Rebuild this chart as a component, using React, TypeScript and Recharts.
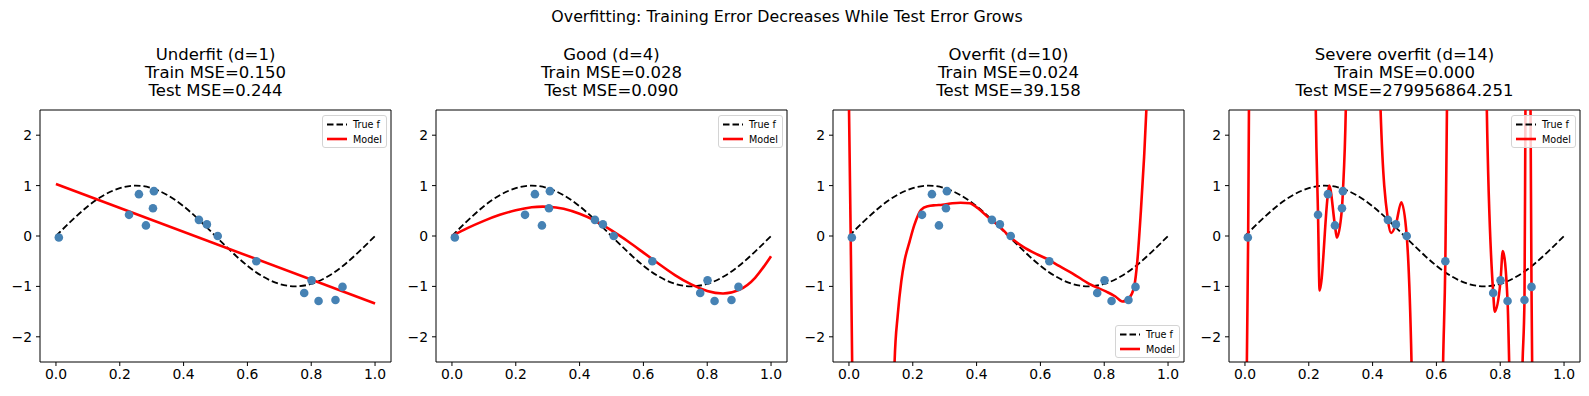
import React from 'react';
import { ComposedChart, Line, Scatter, XAxis, YAxis, ReferenceLine } from 'recharts';

// training samples (same in every panel)
const sampleX = [0.009, 0.229, 0.26, 0.282, 0.304, 0.307, 0.448, 0.473, 0.507, 0.628, 0.778, 0.801, 0.823, 0.876, 0.898];
const sampleY = [-0.03, 0.42, 0.83, 0.21, 0.55, 0.89, 0.32, 0.23, 0.0, -0.5, -1.13, -0.88, -1.29, -1.27, -1.01];

// true function
const trueX = [0, 0.05, 0.1, 0.15, 0.2, 0.25, 0.3, 0.35, 0.4, 0.45, 0.5, 0.55, 0.6, 0.65, 0.7, 0.75, 0.8, 0.85, 0.9, 0.95, 1];
const trueY = [0, 0.31, 0.59, 0.81, 0.95, 1, 0.95, 0.81, 0.59, 0.31, 0, -0.31, -0.59, -0.81, -0.95, -1, -0.95, -0.81, -0.59, -0.31, 0];

// model curves
const fit1X = [0, 1];
const fit1Y = [1.03, -1.34];

const fit4X = trueX;
const fit4Y = [0, 0.16, 0.3, 0.42, 0.51, 0.57, 0.58, 0.54, 0.44, 0.3, 0.11, -0.1, -0.33, -0.56, -0.78, -0.96, -1.09, -1.14, -1.07, -0.83, -0.4];

const fit10X = [0, 0.0055, 0.01, 0.02, 0.08, 0.135, 0.143, 0.153, 0.164, 0.174, 0.19, 0.205, 0.226, 0.247, 0.27, 0.293, 0.324, 0.35, 0.378, 0.404, 0.44, 0.47, 0.503, 0.545, 0.585, 0.623, 0.66, 0.7, 0.753, 0.805, 0.835, 0.857, 0.878, 0.894, 0.904, 0.915, 0.925, 0.932, 0.94, 1];
const fit10Y = [2.6, -0.03, -2.5, -8, -40, -5, -2.5, -1.56, -0.9, -0.5, -0.11, 0.22, 0.52, 0.59, 0.61, 0.62, 0.65, 0.66, 0.65, 0.55, 0.35, 0.2, -0.01, -0.21, -0.35, -0.46, -0.6, -0.74, -0.95, -1.1, -1.2, -1.3, -1.23, -1.0, -0.48, 0.51, 1.57, 2.5, 4, 400];

const fit14X = [0, 0.006, 0.01, 0.0125, 0.03, 0.12, 0.21, 0.222, 0.229, 0.234, 0.26, 0.264, 0.282, 0.288, 0.304, 0.307, 0.316, 0.33, 0.37, 0.41, 0.425, 0.448, 0.458, 0.473, 0.49, 0.507, 0.522, 0.54, 0.57, 0.605, 0.621, 0.628, 0.633, 0.66, 0.7, 0.745, 0.758, 0.778, 0.783, 0.801, 0.808, 0.823, 0.828, 0.85, 0.87, 0.876, 0.879, 0.887, 0.895, 0.898, 0.9, 0.95, 1];
const fit14Y = [-8, -2.5, -0.03, 2.5, 15, 80, 12, 2.5, 0.42, -1.08, 0.83, 1.0, 0.21, -0.03, 0.55, 0.89, 2.5, 10, 20, 10, 2.5, 0.32, 0.06, 0.23, 0.67, 0, -2.5, -10, -20, -10, -2.5, -0.5, 2.5, 15, 25, 12, 2.5, -1.13, -1.5, -0.88, -0.3, -1.29, -2.5, -10, -2.5, -1.27, 2.5, 8, 2.5, -1.01, -2.5, -60, -200];

const panelNames = ['Underfit (d=1)', 'Good (d=4)', 'Overfit (d=10)', 'Severe overfit (d=14)'];
const trainMse = ['0.150', '0.028', '0.024', '0.000'];
const testMse = ['0.244', '0.090', '39.158', '279956864.251'];
const legendAtBottom = [false, false, true, false];

const xTicks = [0, 0.2, 0.4, 0.6, 0.8, 1.0];
const yTicks = [-2, -1, 0, 1, 2];

const zip = (xs: number[], ys: number[]) => xs.map((x, i) => ({ x, y: ys[i] }));

const samples = zip(sampleX, sampleY);
const truth = zip(trueX, trueY);
const fits = [zip(fit1X, fit1Y), zip(fit4X, fit4Y), zip(fit10X, fit10Y), zip(fit14X, fit14Y)];
const curveTypes = ['linear', 'natural', 'monotone', 'monotone'] as const;

const FONT = '"DejaVu Sans", sans-serif';
const AX_LEFT = [40, 436, 833, 1229];
const AX_W = 351;
const AX_TOP = 110;
const AX_H = 252;
const Y_W = 36;
const X_H = 28;

const fmtY = (v: number) => (v < 0 ? '\u2212' + Math.abs(v) : String(v));

function LegendBox({ left, top }: { left: number; top: number }) {
  return (
    <svg
      width={66}
      height={33}
      style={{ position: 'absolute', left, top, overflow: 'visible' }}
    >
      <rect x={0.5} y={0.5} width={64} height={32} rx={2.5} fill="rgba(255,255,255,0.8)" stroke="#d4d4d4" />
      <line x1={5} x2={25} y1={9.5} y2={9.5} stroke="#000" strokeWidth={1.8} strokeDasharray="6.5 3" />
      <line x1={5} x2={25} y1={24} y2={24} stroke="#ff0000" strokeWidth={2.6} />
      <text x={31} y={9.5} dominantBaseline="central" fontSize={9.6} fontFamily={FONT} fill="#000">True f</text>
      <text x={31} y={24} dominantBaseline="central" fontSize={9.6} fontFamily={FONT} fill="#000">Model</text>
    </svg>
  );
}

function Panel({ idx }: { idx: number }) {
  const left = AX_LEFT[idx];
  return (
    <>
      <div
        style={{
          position: 'absolute',
          left: left - 60,
          width: AX_W + 120,
          top: 45.5,
          textAlign: 'center',
          fontSize: 16.5,
          lineHeight: '18.3px',
          color: '#000',
        }}
      >
        <div>{panelNames[idx]}</div>
        <div>Train MSE={trainMse[idx]}</div>
        <div>Test MSE={testMse[idx]}</div>
      </div>
      <div style={{ position: 'absolute', left: left - Y_W, top: AX_TOP - 2 }}>
        <ComposedChart
          width={Y_W + AX_W + 2}
          height={2 + AX_H + X_H}
          margin={{ top: 2, right: 2, bottom: 0, left: 0 }}
        >
          <XAxis
            dataKey="x"
            type="number"
            domain={[-0.05, 1.05]}
            allowDataOverflow
            ticks={xTicks}
            interval={0}
            tickFormatter={(v: number) => v.toFixed(1)}
            height={X_H}
            tickSize={4}
            tickMargin={3}
            tick={{ fill: '#000', fontSize: 13.9, fontFamily: FONT }}
            tickLine={{ stroke: '#000' }}
            axisLine={{ stroke: '#000' }}
          />
          <YAxis
            dataKey="y"
            type="number"
            domain={[-2.5, 2.5]}
            allowDataOverflow
            ticks={yTicks}
            interval={0}
            tickFormatter={fmtY}
            width={Y_W}
            tickSize={4}
            tickMargin={4}
            tick={{ fill: '#000', fontSize: 13.9, fontFamily: FONT }}
            tickLine={{ stroke: '#000' }}
            axisLine={{ stroke: '#000' }}
          />
          <ReferenceLine y={2.5} stroke="#000" />
          <ReferenceLine x={1.05} stroke="#000" />
          <Line
            data={truth}
            dataKey="y"
            type="natural"
            stroke="#000"
            strokeWidth={1.8}
            strokeDasharray="6.5 3"
            dot={false}
            activeDot={false}
            isAnimationActive={false}
          />
          <Line
            data={fits[idx]}
            dataKey="y"
            type={curveTypes[idx]}
            stroke="#ff0000"
            strokeWidth={2.6}
            dot={false}
            activeDot={false}
            isAnimationActive={false}
          />
          <Scatter
            data={samples}
            fill="#4682b4"
            isAnimationActive={false}
            shape={(p: any) => <circle cx={p.cx} cy={p.cy} r={4.3} fill="#4682b4" />}
          />
        </ComposedChart>
      </div>
      <LegendBox
        left={left + AX_W - 69}
        top={legendAtBottom[idx] ? AX_TOP + AX_H - 37 : AX_TOP + 5}
      />
    </>
  );
}

export default function App() {
  return (
    <div
      style={{
        position: 'absolute',
        left: 0,
        top: 0,
        width: 1589,
        height: 396,
        background: '#fff',
        fontFamily: FONT,
        overflow: 'hidden',
      }}
    >
      <div
        style={{
          position: 'absolute',
          left: 0,
          width: 1574,
          top: 7,
          textAlign: 'center',
          fontSize: 15.8,
          lineHeight: '20px',
          color: '#000',
        }}
      >
        Overfitting: Training Error Decreases While Test Error Grows
      </div>
      {[0, 1, 2, 3].map((i) => (
        <Panel key={i} idx={i} />
      ))}
    </div>
  );
}
